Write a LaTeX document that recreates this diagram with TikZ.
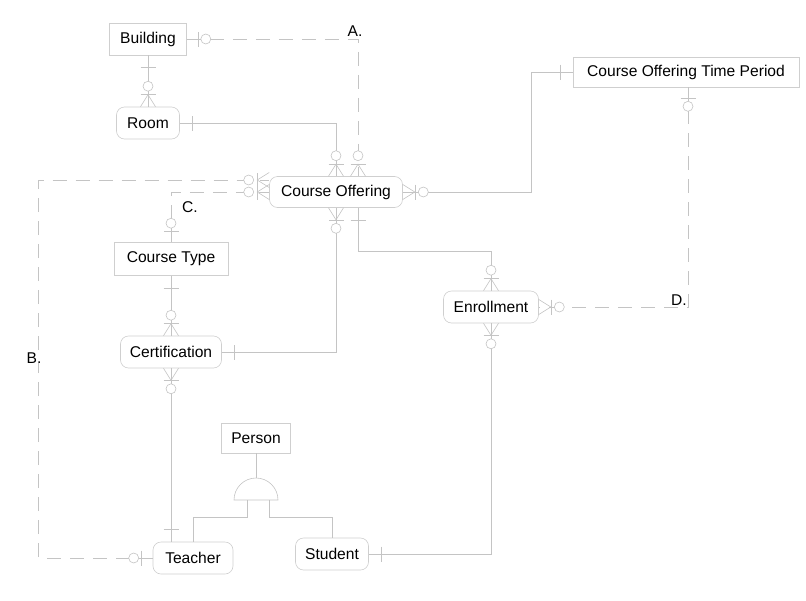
\documentclass[tikz,border=0pt]{standalone}
\usepackage{fontspec}
\setmainfont{Liberation Sans}
\usepackage{tikz}
\usetikzlibrary{decorations.markings}
\definecolor{erLine}{HTML}{C4C4C4}
\definecolor{erBorder}{HTML}{CFCFCF}
\newcommand\erfont{\fontsize{15.6}{18}\selectfont}
\newcommand\erbar{\draw[erSym] (0,-7.5pt) -- (0,7.5pt);}
\newcommand\erring[1]{\draw[erSym, fill=white] (#1,0) circle (5pt);}
\newcommand\ercrow[1]{\draw[erSym] (#1,7.5pt) -- (0,0) -- (#1,-7.5pt);}
\tikzset{
  erSym/.style={solid, draw=erLine, line width=0.6pt},
  entbox/.style={draw=erBorder, fill=white, line width=0.6pt, inner sep=0pt, minimum height=31pt, align=center, font=\erfont},
  depbox/.style={entbox, rounded corners=8pt},
  lbl/.style={inner sep=0pt, font=\erfont},
  rel/.style={draw=erLine, line width=0.6pt},
  relopt/.style={rel, dash pattern=on 14pt off 9pt},
  oneS/.style={postaction={decorate, decoration={markings, mark=at position 12pt with {\erbar}}}},
  oneE/.style={postaction={decorate, decoration={markings, mark=at position -12pt with {\erbar}}}},
  optS/.style={postaction={decorate, decoration={markings, mark=at position 11pt with {\erbar\erring{8pt}}}}},
  optE/.style={postaction={decorate, decoration={markings, mark=at position -11pt with {\erbar\erring{-8pt}}}}},
  manyS/.style={postaction={decorate, decoration={markings, mark=at position 12pt with {\ercrow{-12pt}\erbar\erring{8.5pt}}}}},
  manyE/.style={postaction={decorate, decoration={markings, mark=at position -12pt with {\ercrow{12pt}\erbar\erring{-8.5pt}}}}}
}
\begin{document}
\begin{tikzpicture}[x=1pt,y=-1pt]
  \useasboundingbox (0,0) rectangle (806,600);

  \node[entbox, minimum width=77pt, minimum height=32pt] (bldg) at (148,39) {Building};
  \node[depbox, minimum width=63pt, minimum height=32pt] (room) at (148,123) {Room};
  \node[depbox, minimum width=133pt] (co) at (336,192) {Course Offering};
  \node[entbox, minimum width=226pt, minimum height=30pt] (cotp) at (686,72) {Course Offering Time Period};
  \node[entbox, minimum width=114pt, minimum height=33pt] (ctype) at (171,259) {Course Type};
  \node[depbox, minimum width=101pt, minimum height=32pt] (cert) at (171,352) {Certification};
  \node[depbox, minimum width=95pt, minimum height=32pt] (enrol) at (491,307) {Enrollment};
  \node[entbox, minimum width=69pt, minimum height=30pt] (person) at (256,438) {Person};
  \node[depbox, minimum width=80pt, minimum height=32pt] (teacher) at (193,558) {Teacher};
  \node[depbox, minimum width=73pt, minimum height=32pt] (student) at (332,554) {Student};

  \draw[rel, oneS, manyE] (bldg.south) -- (room.north);
  \draw[relopt, optS, manyE] (bldg.east) -| ([xshift=22pt]co.north);
  \draw[rel, oneS, manyE] (room.east) -| (co.north);
  \draw[relopt, optS, manyE] (teacher.west) -- ++(-114,0) |- ([yshift=12pt]co.west);
  \draw[relopt, optS, manyE] (ctype.north) |- (co.west);
  \draw[rel, oneS, manyE] (cotp.west) -- ++(-41,0) |- (co.east);
  \draw[relopt, optS, manyE] ([xshift=2pt]cotp.south) |- (enrol.east);
  \draw[rel, oneS, manyE] (cert.east) -| (co.south);
  \draw[rel, oneS, manyE] ([xshift=22pt]co.south) -- ++(0,43) -| (enrol.north);
  \draw[rel, oneS, manyE] (ctype.south) -- (cert.north);
  \draw[rel, manyS, oneE] (cert.south) -- (cert.south |- teacher.north);
  \draw[rel, manyS, oneE] (enrol.south) |- (student.east);

  \coordinate (cat) at (256,500);
  \draw[rel] ([xshift=-22pt]cat) arc[start angle=180, end angle=0, radius=22pt] -- cycle;
  \draw[rel] (person.south) -- ([yshift=22pt]cat);
  \draw[rel] ([xshift=-9pt]cat) -- ++(0,17) -| (teacher.north);
  \draw[rel] ([xshift=13pt]cat) -- ++(0,17) -| (student.north);

  \node[lbl] (la) at (355,31) {A.};
  \node[lbl, fill=white] (lb) at (34,358) {B.};
  \node[lbl] (lc) at (190,207) {C.};
  \node[lbl] (ld) at (679,300) {D.};
\end{tikzpicture}
\end{document}
